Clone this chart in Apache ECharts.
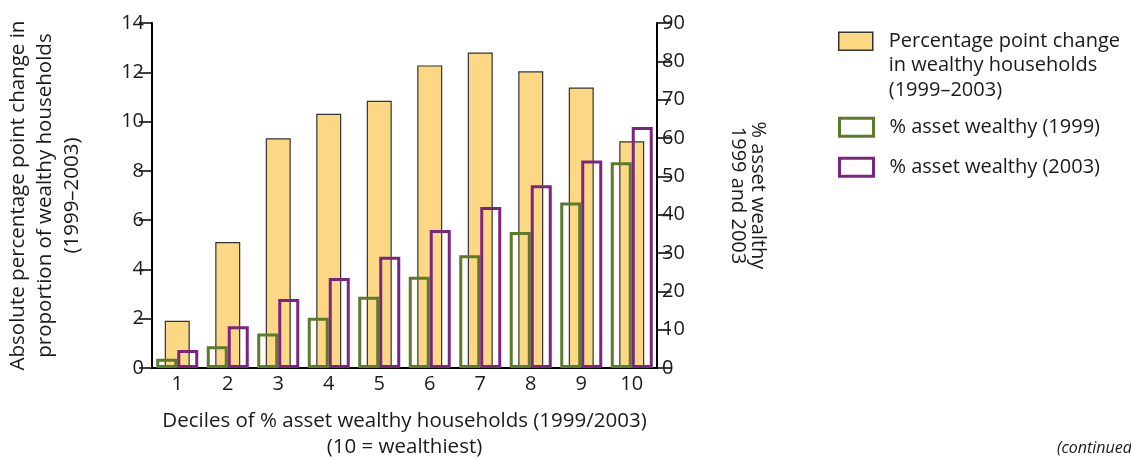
<!DOCTYPE html>
<html>
<head>
<meta charset="utf-8">
<script src="https://cdn.jsdelivr.net/npm/echarts@6/dist/echarts.min.js"></script>
<style>
  html, body { margin: 0; padding: 0; background: #fff; }
  #main { width: 1131px; height: 459px; }
</style>
</head>
<body>
<div id="main"></div>
<script>
// deciles of % asset wealthy households
const deciles = ['1', '2', '3', '4', '5', '6', '7', '8', '9', '10'];
// left axis: absolute percentage point change 1999-2003
const ppChange = [1.92, 5.11, 9.32, 10.32, 10.84, 12.28, 12.8, 12.04, 11.38, 9.2];
// right axis: % asset wealthy
const wealthy1999 = [2.4, 5.7, 9.0, 13.1, 18.6, 23.8, 29.4, 35.5, 43.2, 53.7];
const wealthy2003 = [4.7, 10.9, 18.0, 23.5, 29.0, 36.0, 42.0, 47.7, 54.1, 62.9];

const FONT = 'Open Sans';
const INK = '#1a1a1a';
const YELLOW = '#fcd885';
const GREEN = '#5b7b2b';
const PURPLE = '#7b2583';

const nameChange = 'Percentage point change\nin wealthy households\n(1999–2003)';
const name1999 = '% asset wealthy (1999)';
const name2003 = '% asset wealthy (2003)';

const chart = echarts.init(document.getElementById('main'));

function legendFor(name, top) {
  return {
    data: [name],
    left: 838,
    top: top,
    orient: 'vertical',
    padding: 0,
    icon: 'rect',
    itemWidth: 34,
    itemHeight: 18,
    selectedMode: false,
    textStyle: { fontFamily: FONT, fontSize: 20, color: INK, lineHeight: 24.5, padding: [0, 0, 0, 11] },
  };
}

// first legend: put the icon beside the first line of the 3-line label
const legendChange = legendFor(nameChange, -20);
legendChange.formatter = function (n) { return '\n\n' + n; };
legendChange.itemStyle = { borderColor: '#333', borderWidth: 1.5 };

const legend1999 = legendFor(name1999, 115);
legend1999.itemStyle = { borderWidth: 3 };
const legend2003 = legendFor(name2003, 155);
legend2003.itemStyle = { borderWidth: 3 };

const option = {
  animation: false,
  textStyle: { fontFamily: FONT },
  title: {
    text: '(continued)',
    left: 1057,
    top: 440,
    padding: 0,
    textStyle: { fontFamily: FONT, fontSize: 16, fontStyle: 'italic', fontWeight: 'normal', color: INK },
  },
  legend: [legendChange, legend1999, legend2003],
  grid: { left: 152, right: 474, top: 23, bottom: 91, outerBoundsMode: 'none', containLabel: false },
  xAxis: [
    {
      type: 'category',
      data: deciles,
      name: 'Deciles of % asset wealthy households (1999/2003)\n(10 = wealthiest)',
      nameLocation: 'middle',
      nameGap: 40,
      nameTextStyle: { fontFamily: FONT, fontSize: 20.5, color: INK, lineHeight: 26 },
      axisLine: { lineStyle: { color: '#000', width: 2 } },
      axisTick: { inside: true, length: 9, lineStyle: { color: '#000', width: 1.5 } },
      axisLabel: { fontFamily: FONT, fontSize: 20, color: INK, margin: 6 },
    },
    {
      type: 'category',
      data: deciles,
      show: false,
    },
  ],
  yAxis: [
    {
      type: 'value',
      min: 0,
      max: 14,
      interval: 2,
      position: 'left',
      name: 'Absolute percentage point change in\nproportion of wealthy households\n(1999–2003)',
      nameLocation: 'middle',
      nameRotate: 90,
      nameGap: 66,
      nameTextStyle: { fontFamily: FONT, fontSize: 20.5, color: INK, lineHeight: 27 },
      axisLine: { show: true, lineStyle: { color: '#000', width: 2 } },
      axisTick: { show: true, length: 13, lineStyle: { color: '#000', width: 1.5 } },
      axisLabel: { fontFamily: FONT, fontSize: 20, color: INK, margin: 8 },
      splitLine: { show: false },
    },
    {
      type: 'value',
      min: 0,
      max: 90,
      interval: 10,
      position: 'right',
      name: '% asset wealthy\n1999 and 2003',
      nameLocation: 'middle',
      nameRotate: -90,
      nameGap: 71,
      nameTextStyle: { fontFamily: FONT, fontSize: 20, color: INK, lineHeight: 20 },
      axisLine: { show: true, lineStyle: { color: '#000', width: 2 } },
      axisTick: { show: true, length: 14, lineStyle: { color: '#000', width: 1.5 } },
      axisLabel: { fontFamily: FONT, fontSize: 20, color: INK, margin: 5 },
      splitLine: { show: false },
    },
  ],
  series: [
    {
      name: nameChange,
      type: 'bar',
      xAxisIndex: 0,
      yAxisIndex: 0,
      data: ppChange,
      barWidth: 25,
      itemStyle: { color: YELLOW, borderColor: '#333', borderWidth: 1.2 },
    },
    {
      name: name1999,
      type: 'bar',
      xAxisIndex: 1,
      yAxisIndex: 1,
      data: wealthy1999,
      barWidth: 21,
      barGap: '0%',
      itemStyle: { color: 'rgba(255,255,255,0)', borderColor: GREEN, borderWidth: 3 },
    },
    {
      name: name2003,
      type: 'bar',
      xAxisIndex: 1,
      yAxisIndex: 1,
      data: wealthy2003,
      barWidth: 21,
      barGap: '0%',
      itemStyle: { color: 'rgba(255,255,255,0)', borderColor: PURPLE, borderWidth: 3 },
    },
  ],
};

chart.setOption(option);
</script>
</body>
</html>
